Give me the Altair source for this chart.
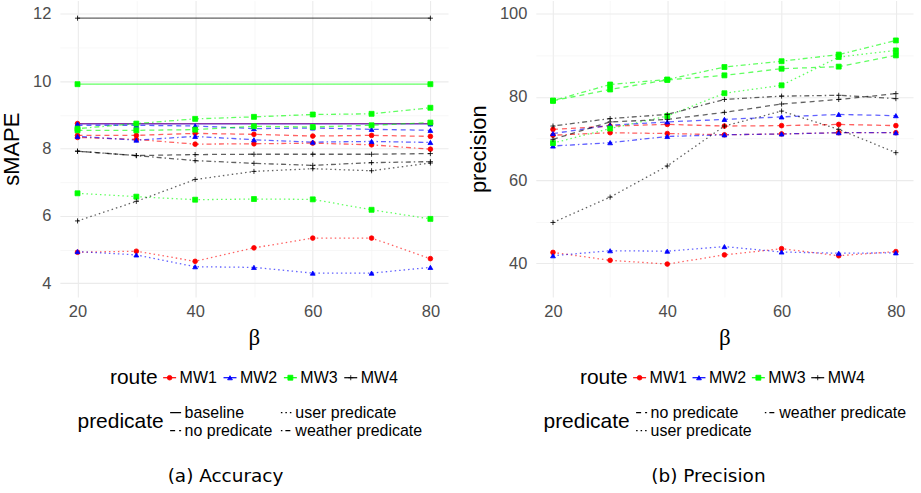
import altair as alt
import pandas as pd

beta = [20, 30, 40, 50, 60, 70, 80]
baseline_beta = [20, 80]
routes = ["MW1", "MW2", "MW3", "MW4"]
route_colors = ["#FF0000", "#0000FF", "#00FF00", "#000000"]
route_shapes = ["circle", "triangle-up", "square", "M-1,0H1M0,-1V1"]
route_sizes = [22, 26, 20, 42]

pred_acc = ["baseline", "no predicate", "user predicate", "weather predicate"]
pred_prec = ["no predicate", "user predicate", "weather predicate"]
dash_of = {"baseline": [1, 0], "no predicate": [5, 4],
           "user predicate": [1.5, 3], "weather predicate": [1.5, 3, 5, 3]}

# ---- (a) Accuracy: sMAPE ----
acc_baseline = [8.74, 8.73, 9.91, 11.87]
acc_mw1_no = [8.39, 8.39, 8.45, 8.42, 8.37, 8.39, 8.36]
acc_mw1_user = [4.92, 4.95, 4.65, 5.05, 5.34, 5.34, 4.73]
acc_mw1_weather = [8.33, 8.27, 8.13, 8.14, 8.16, 8.11, 7.98]
acc_mw2_no = [8.69, 8.69, 8.67, 8.59, 8.61, 8.57, 8.54]
acc_mw2_user = [4.94, 4.84, 4.49, 4.47, 4.30, 4.30, 4.47]
acc_mw2_weather = [8.36, 8.25, 8.36, 8.26, 8.19, 8.21, 8.18]
acc_mw3_no = [8.54, 8.54, 8.56, 8.66, 8.64, 8.69, 8.77]
acc_mw3_user = [6.67, 6.57, 6.48, 6.50, 6.49, 6.18, 5.91]
acc_mw3_weather = [8.59, 8.74, 8.88, 8.94, 9.01, 9.03, 9.21]
acc_mw4_no = [7.92, 7.79, 7.82, 7.83, 7.83, 7.83, 7.85]
acc_mw4_user = [5.85, 6.43, 7.08, 7.32, 7.40, 7.34, 7.57]
acc_mw4_weather = [7.92, 7.79, 7.64, 7.56, 7.50, 7.58, 7.61]

# ---- (b) Precision ----
prec_mw1_no = [72.2, 73.0, 73.4, 73.0, 73.1, 73.4, 73.1]
prec_mw1_user = [42.6, 40.7, 39.8, 42.0, 43.5, 41.8, 42.8]
prec_mw1_weather = [70.8, 71.4, 71.2, 70.9, 71.1, 71.4, 71.4]
prec_mw2_no = [71.2, 73.2, 74.0, 74.6, 75.2, 75.8, 75.5]
prec_mw2_user = [41.8, 43.0, 42.9, 44.0, 42.7, 42.4, 42.5]
prec_mw2_weather = [68.2, 69.0, 70.5, 70.9, 71.1, 71.4, 71.4]
prec_mw3_no = [79.1, 81.8, 84.1, 85.2, 86.8, 87.3, 90.0]
prec_mw3_user = [68.9, 72.4, 75.4, 80.9, 82.8, 89.6, 91.2]
prec_mw3_weather = [79.1, 83.0, 84.2, 87.2, 88.6, 90.2, 93.6]
prec_mw4_no = [69.8, 74.0, 74.6, 76.3, 78.3, 79.4, 80.8]
prec_mw4_user = [49.8, 55.9, 63.4, 73.0, 76.6, 72.2, 66.6]
prec_mw4_weather = [73.0, 74.8, 75.8, 79.4, 80.2, 80.4, 79.6]


def rows(route, pred, xs, ys):
    return [{"beta": b, "value": v, "route": route, "predicate": pred} for b, v in zip(xs, ys)]


acc_rows = []
for r, b in zip(routes, acc_baseline):
    acc_rows += rows(r, "baseline", baseline_beta, [b, b])
acc_series = {
    "MW1": (acc_mw1_no, acc_mw1_user, acc_mw1_weather),
    "MW2": (acc_mw2_no, acc_mw2_user, acc_mw2_weather),
    "MW3": (acc_mw3_no, acc_mw3_user, acc_mw3_weather),
    "MW4": (acc_mw4_no, acc_mw4_user, acc_mw4_weather),
}
for r in routes:
    for p, ys in zip(pred_prec, acc_series[r]):
        acc_rows += rows(r, p, beta, ys)
acc_df = pd.DataFrame(acc_rows)

prec_series = {
    "MW1": (prec_mw1_no, prec_mw1_user, prec_mw1_weather),
    "MW2": (prec_mw2_no, prec_mw2_user, prec_mw2_weather),
    "MW3": (prec_mw3_no, prec_mw3_user, prec_mw3_weather),
    "MW4": (prec_mw4_no, prec_mw4_user, prec_mw4_weather),
}
prec_rows = []
for r in routes:
    for p, ys in zip(pred_prec, prec_series[r]):
        prec_rows += rows(r, p, beta, ys)
prec_df = pd.DataFrame(prec_rows)

SANS = "Liberation Sans"
PLOT_H = 297
LEG_FS = 16

color_scale = alt.Scale(domain=routes, range=route_colors)
shape_scale = alt.Scale(domain=routes, range=route_shapes)
size_scale = alt.Scale(domain=routes, range=route_sizes)


def grid_cond(test):
    return ({"condition": {"test": test, "value": "#EBEBEB"}, "value": "#F2F2F2"},
            {"condition": {"test": test, "value": 1.1}, "value": 0.6})


def panel(df, preds, ytitle, ydomain, yvalues, ymod, width):
    dash_scale = alt.Scale(domain=preds, range=[dash_of[p] for p in preds])
    gx_c, gx_w = grid_cond("datum.value % 20 == 0")
    gy_c, gy_w = grid_cond(f"datum.value % {ymod} == 0")
    x = alt.X("beta:Q", scale=alt.Scale(domain=[17, 83], nice=False, zero=False),
              axis=alt.Axis(values=beta, labelExpr="datum.value % 20 == 0 ? datum.label : ''",
                            gridColor=gx_c, gridWidth=gx_w, domain=False, ticks=False,
                            labelFont=SANS, labelFontSize=16.5, labelColor="#4D4D4D",
                            labelPadding=7, title="β", titleFont="Liberation Serif",
                            titleFontSize=23, titleFontWeight="normal", titleColor="#000000",
                            titlePadding=6))
    y = alt.Y("value:Q", scale=alt.Scale(domain=ydomain, nice=False, zero=False),
              axis=alt.Axis(values=yvalues,
                            labelExpr=f"datum.value % {ymod} == 0 ? datum.label : ''",
                            gridColor=gy_c, gridWidth=gy_w, domain=False, ticks=False,
                            labelFont=SANS, labelFontSize=16.5, labelColor="#4D4D4D",
                            labelPadding=9, title=ytitle, titleFont=SANS, titleFontSize=22,
                            titleFontWeight="normal", titleColor="#000000", titlePadding=9))
    base = alt.Chart(df)
    lines = base.mark_line(strokeWidth=1.3, opacity=0.62).encode(
        x=x, y=y,
        color=alt.Color("route:N", scale=color_scale, legend=None),
        strokeDash=alt.StrokeDash("predicate:N", scale=dash_scale, legend=None),
    )
    points = base.mark_point(filled=True, opacity=1, strokeWidth=0.8).encode(
        x=x, y=y,
        color=alt.Color("route:N", scale=color_scale, legend=None),
        stroke=alt.Stroke("route:N", scale=color_scale, legend=None),
        shape=alt.Shape("route:N", scale=shape_scale, legend=None),
        size=alt.Size("route:N", scale=size_scale, legend=None),
    )
    return alt.layer(lines, points).properties(width=width, height=PLOT_H)


def footer(width, preds, r_c0, r_sp, p_c0, p_sp, caption, cap_x):
    dash_scale = alt.Scale(domain=preds, range=[dash_of[p] for p in preds])
    rdf = pd.DataFrame({"route": routes, "idx": list(range(len(routes)))})
    rxs = alt.Scale(domain=[-r_c0 / r_sp, (width - r_c0) / r_sp], nice=False, zero=False)
    rx = alt.X("idx:Q", scale=rxs, axis=None)
    ry = alt.value(23)
    rb = alt.Chart(rdf)
    r_line = rb.mark_rule(xOffset=-6.5, x2Offset=6.5, strokeWidth=1.2).encode(
        x=rx, x2="idx:Q", y=ry,
        color=alt.Color("route:N", scale=color_scale, legend=None))
    r_pt = rb.mark_point(filled=True, opacity=1, strokeWidth=0.8).encode(
        x=rx, y=ry,
        color=alt.Color("route:N", scale=color_scale, legend=None),
        stroke=alt.Stroke("route:N", scale=color_scale, legend=None),
        shape=alt.Shape("route:N", scale=shape_scale, legend=None),
        size=alt.Size("route:N", scale=size_scale, legend=None))
    r_txt = rb.mark_text(align="left", baseline="middle", dx=10, font=SANS,
                         fontSize=LEG_FS, color="#000000").encode(x=rx, y=ry, text="route:N")
    r_title = rb.transform_filter("datum.idx == 0").mark_text(
        align="right", baseline="middle", dx=-12, font=SANS, fontSize=21,
        color="#000000", text="route").encode(x=rx, y=ry)
    route_leg = alt.layer(r_line, r_pt, r_txt, r_title)

    pdf = pd.DataFrame({"pred": preds,
                        "col": [i // 2 for i in range(len(preds))],
                        "row": [i % 2 for i in range(len(preds))]})
    pxs = alt.Scale(domain=[-p_c0 / p_sp, (width - p_c0) / p_sp], nice=False, zero=False)
    px = alt.X("col:Q", scale=pxs, axis=None)
    py = alt.Y("row:Q", scale=alt.Scale(domain=[0, 1], range=[58, 76]), axis=None)
    pb = alt.Chart(pdf)
    p_line = pb.mark_rule(xOffset=-5.5, x2Offset=5.5, strokeWidth=1.1, color="#000000").encode(
        x=px, x2="col:Q", y=py,
        strokeDash=alt.StrokeDash("pred:N", scale=dash_scale, legend=None))
    p_txt = pb.mark_text(align="left", baseline="middle", dx=9, font=SANS, fontSize=LEG_FS,
                         color="#000000").encode(x=px, y=py, text="pred:N")
    p_title = pb.transform_filter("datum.col == 0 && datum.row == 0").mark_text(
        align="right", baseline="middle", dx=-12, font=SANS, fontSize=21,
        color="#000000", text="predicate").encode(x=px, y=alt.value(67))
    pred_leg = alt.layer(p_line, p_txt, p_title)

    cap = alt.Chart(pd.DataFrame({"c": [caption]})).mark_text(
        font="DejaVu Sans", fontSize=18.5, color="#000000", baseline="middle").encode(
        x=alt.value(cap_x), y=alt.value(122), text="c:N")

    return alt.layer(route_leg, pred_leg, cap).resolve_scale(
        x="independent", y="independent", strokeDash="independent"
    ).properties(width=width, height=138)


W_L, W_R = 389, 378
left_plot = panel(acc_df, pred_acc, "sMAPE", [3.594, 12.394],
                  [4, 5, 6, 7, 8, 9, 10, 11, 12], 2, W_L)
right_plot = panel(prec_df, pred_prec, "precision", [31.9, 103.2],
                   [40, 50, 60, 70, 80, 90, 100], 20, W_R)

left_foot = footer(W_L, pred_acc, 110, 60.5, 116, 111, "(a) Accuracy", 166)
right_foot = footer(W_R, pred_prec, 104, 59.5, 106, 129, "(b) Precision", 173)

left_col = alt.vconcat(left_plot, left_foot, spacing=58, bounds="flush").resolve_scale(
    strokeDash="independent")
right_col = alt.vconcat(right_plot, right_foot, spacing=58, bounds="flush").resolve_scale(
    strokeDash="independent")

chart = alt.hconcat(left_col, right_col, spacing=19).resolve_scale(
    strokeDash="independent"
).properties(
    padding={"left": 0, "top": 0, "right": 8, "bottom": 0},
    background="#FFFFFF",
).configure_view(stroke=None)

chart.save("out.html", embed_options={"renderer": "svg", "actions": False})
